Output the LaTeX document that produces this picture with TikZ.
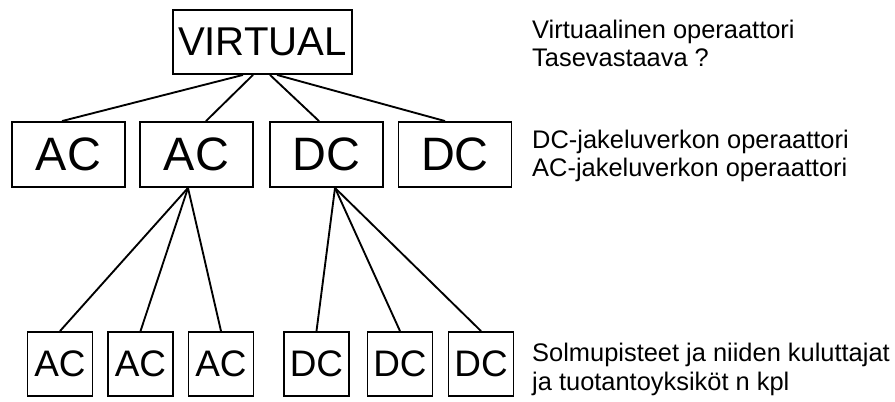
\documentclass[tikz,border=0pt]{standalone}
\usepackage{fontspec}
\setmainfont{Liberation Sans}
\usetikzlibrary{positioning,calc}
\tikzset{
  box/.style={draw,line width=1.6pt,inner sep=0pt},
  topbox/.style={box,minimum width=5.37cm,minimum height=1.92cm,font=\fontsize{34.3}{40}\selectfont},
  netbox/.style={box,minimum width=3.39cm,minimum height=1.95cm,font=\fontsize{40}{46}\selectfont},
  nodebox/.style={box,minimum width=1.95cm,minimum height=1.92cm,font=\fontsize{31.5}{38}\selectfont},
  note/.style={anchor=base west,align=left,inner sep=0pt,font=\fontsize{21.7}{24.75}\selectfont},
  link/.style={line width=1.6pt}
}

\begin{document}
\begin{tikzpicture}
    \useasboundingbox (0,0) rectangle (26.85,12.03);

    % top level
    \node[topbox] (virt) at (7.875,10.77) {VIRTUAL};

    % distribution networks
    \node[netbox] (ac1) at (2.055,7.395) {AC};
    \node[netbox] (ac2) at (5.895,7.395) {AC};
    \node[netbox] (dc1) at (9.795,7.395) {DC};
    \node[netbox] (dc2) at (13.65,7.395) {DC};

    % nodes
    \node[nodebox] (acn1) at (1.8,1.11) {AC};
    \node[nodebox] (acn2) at (4.215,1.11) {AC};
    \node[nodebox] (acn3) at (6.63,1.11) {AC};
    \node[nodebox] (dcn1) at (9.495,1.11) {DC};
    \node[nodebox] (dcn2) at (12.0,1.11) {DC};
    \node[nodebox] (dcn3) at (14.43,1.11) {DC};

    \draw[link] ($(virt.south)+(-0.585,0)$) -- ($(ac1.north)+(-0.195,0)$);
    \draw[link] ($(virt.south)+(-0.285,0)$) -- ($(ac2.north)+(0.285,0)$);
    \draw[link] ($(virt.south)+(0.225,0)$) -- ($(dc1.north)+(-0.225,0)$);
    \draw[link] ($(virt.south)+(0.435,0)$) -- ($(dc2.north)+(-0.3,0)$);

    \foreach \n in {acn1,acn2,acn3}
      \draw[link] ($(ac2.south)+(-0.255,0)$) -- (\n.north);
    \foreach \n in {dcn1,dcn2,dcn3}
      \draw[link] ($(dc1.south)+(0.255,0)$) -- (\n.north);

    % explanations (anchored on the last line)
    \node[note] (n1) at (15.96,10.02) {Virtuaalinen operaattori\\Tasevastaava ?};
    \node[note] (n2) at (15.96,6.72) {DC-jakeluverkon operaattori\\AC-jakeluverkon operaattori};
    \node[note] (n3) at (15.96,0.33) {Solmupisteet ja niiden kuluttajat\\ja tuotantoyksiköt n kpl};
\end{tikzpicture}
\end{document}
